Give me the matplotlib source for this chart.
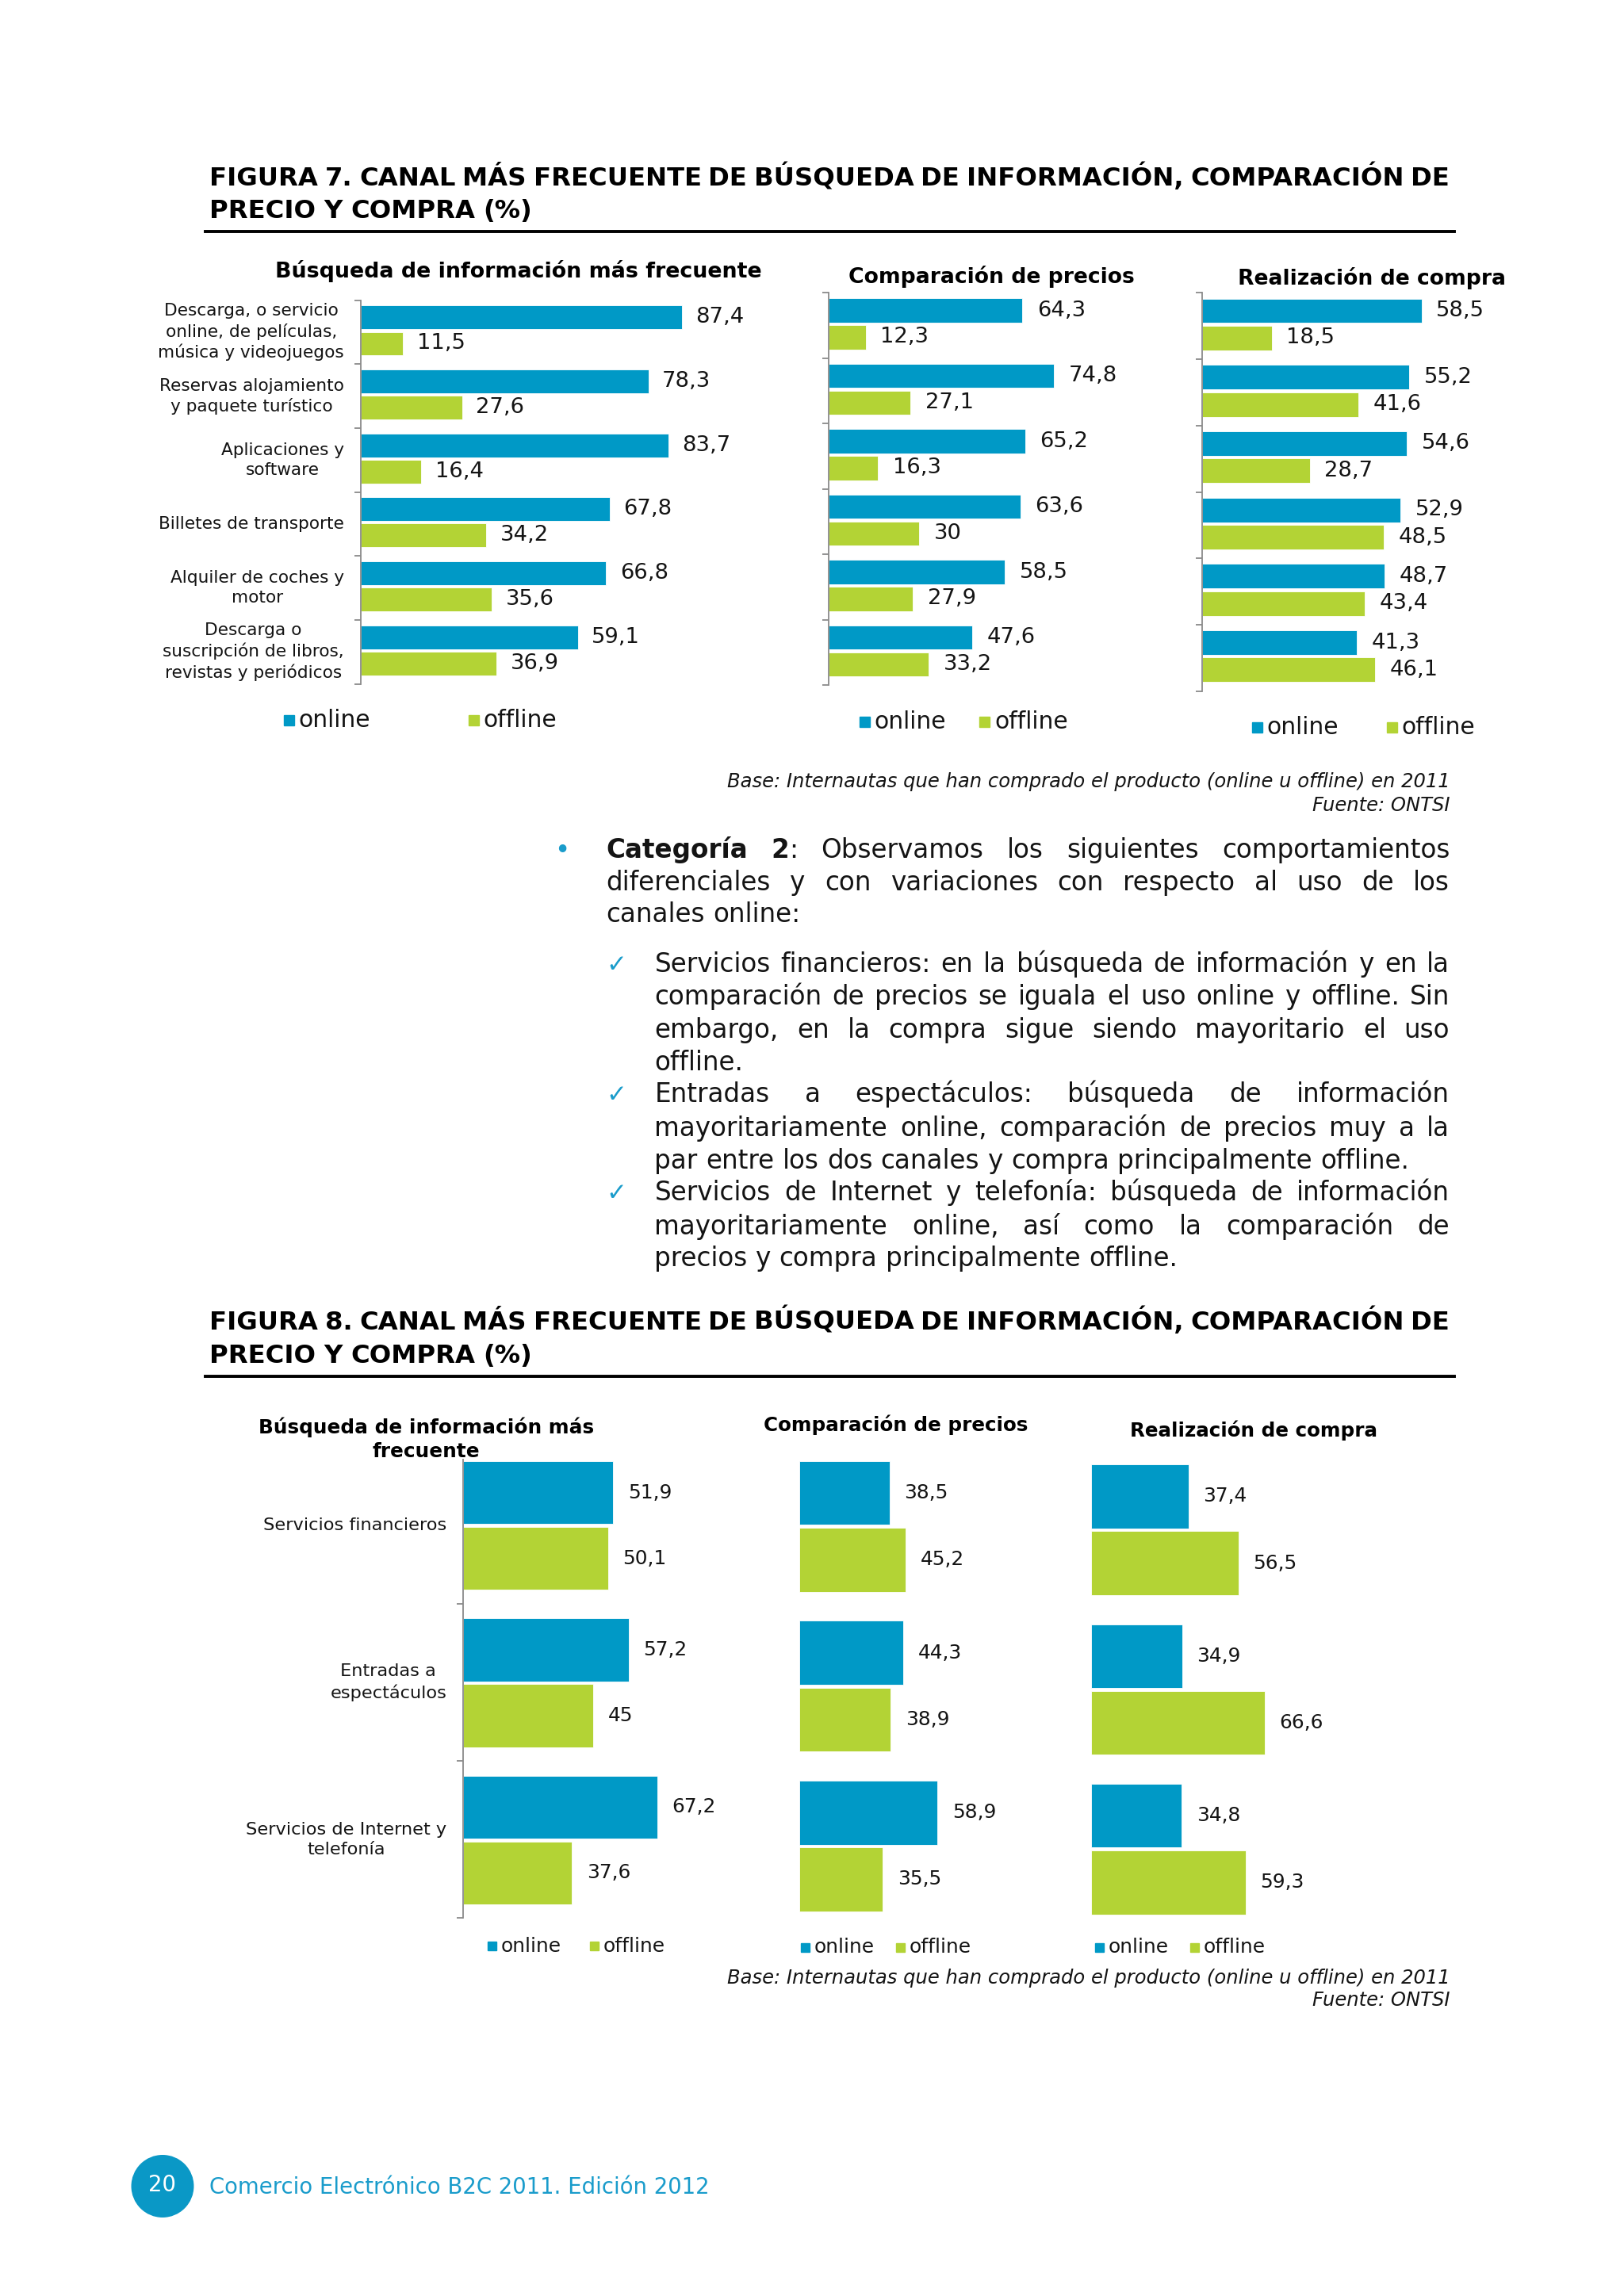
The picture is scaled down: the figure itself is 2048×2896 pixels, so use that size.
import numpy as np
import matplotlib
matplotlib.use('Agg')
import matplotlib.pyplot as plt
from matplotlib.patches import Rectangle, Ellipse
from matplotlib.lines import Line2D

plt.rcParams['font.family'] = ['DejaVu Sans']

# ---------------- DATA ----------------
series_labels = ["online", "offline"]

fig7_categories = [
    "Descarga, o servicio\nonline, de películas,\nmúsica y videojuegos",
    "Reservas alojamiento\ny paquete turístico",
    "Aplicaciones y\nsoftware",
    "Billetes de transporte",
    "Alquiler de coches y\nmotor",
    "Descarga o\nsuscripción de libros,\nrevistas y periódicos",
]
fig7_busqueda_online = [87.4, 78.3, 83.7, 67.8, 66.8, 59.1]
fig7_busqueda_offline = [11.5, 27.6, 16.4, 34.2, 35.6, 36.9]
fig7_comparacion_online = [64.3, 74.8, 65.2, 63.6, 58.5, 47.6]
fig7_comparacion_offline = [12.3, 27.1, 16.3, 30, 27.9, 33.2]
fig7_compra_online = [58.5, 55.2, 54.6, 52.9, 48.7, 41.3]
fig7_compra_offline = [18.5, 41.6, 28.7, 48.5, 43.4, 46.1]

fig8_categories = ["Servicios financieros", "Entradas a\nespectáculos",
                   "Servicios de Internet y\ntelefonía"]
fig8_busqueda_online = [51.9, 57.2, 67.2]
fig8_busqueda_offline = [50.1, 45, 37.6]
fig8_comparacion_online = [38.5, 44.3, 58.9]
fig8_comparacion_offline = [45.2, 38.9, 35.5]
fig8_compra_online = [37.4, 34.9, 34.8]
fig8_compra_offline = [56.5, 66.6, 59.3]

fig7_title = ["FIGURA 7. CANAL MÁS FRECUENTE DE BÚSQUEDA DE INFORMACIÓN, COMPARACIÓN DE",
              "PRECIO Y COMPRA (%)"]
fig8_title = ["FIGURA 8. CANAL MÁS FRECUENTE DE BÚSQUEDA DE INFORMACIÓN, COMPARACIÓN DE",
              "PRECIO Y COMPRA (%)"]
chart_titles = ["Búsqueda de información más frecuente", "Comparación de precios",
                "Realización de compra"]
fig8_chart1_title = "Búsqueda de información más\nfrecuente"
base_text = "Base: Internautas que han comprado el producto (online u offline) en 2011"
source_text = "Fuente: ONTSI"
footer_text = "Comercio Electrónico B2C 2011. Edición 2012"
page_number = "20"

para_lines = [
    "Categoría 2: Observamos los siguientes comportamientos",
    "diferenciales y con variaciones con respecto al uso de los",
    "canales online:",
]
items = [
    ["Servicios financieros: en la búsqueda de información y en la",
     "comparación de precios se iguala el uso online y offline. Sin",
     "embargo, en la compra sigue siendo mayoritario el uso",
     "offline."],
    ["Entradas a espectáculos: búsqueda de información",
     "mayoritariamente online, comparación de precios muy a la",
     "par entre los dos canales y compra principalmente offline."],
    ["Servicios de Internet y telefonía: búsqueda de información",
     "mayoritariamente online, así como la comparación de",
     "precios y compra principalmente offline."],
]

# ---------------- STYLE ----------------
BLUE = "#0099C6"
GREEN = "#B3D335"
TXT = "#141414"
ACCENT = "#1A9CCB"
GRAY = "#8A8A8A"

W, H = 1109.0, 1568.0
S = 2048.0 / W
fig = plt.figure(figsize=(20.48, 28.96), dpi=100)
fig.patch.set_facecolor("white")
R = fig.canvas.get_renderer()


def X(x):
    return x / W


def Y(y):
    return 1 - y / H


def PT(d):  # display px -> points
    return d * S * 72.0 / 100.0


def em_disp(size):
    return size * 100.0 / 72.0 / S


def text_w(s, size, **kw):
    t = fig.text(0, 0, s, fontsize=size, **kw)
    w = t.get_window_extent(R).width / S
    t.remove()
    return w


def fit(s, width, **kw):
    return 20.0 * width / text_w(s, 20, **kw)


def lsp(size, target_disp):
    em = size * 100.0 / 72.0
    return (target_disp * S / em - 0.208) / 0.76


def put_words(words, x0, x1, y, size, color, justify=True):
    widths = [sum(text_w(seg, size, fontweight=wt) for seg, wt in wd) for wd in words]
    space = text_w("a a", size) - text_w("aa", size)
    if justify and len(words) > 1:
        gap = (x1 - x0 - sum(widths)) / (len(words) - 1)
    else:
        gap = space
    yb = y + 0.275 * em_disp(size)  # common baseline for every word of the line
    x = x0
    for wd, w in zip(words, widths):
        for seg, wt in wd:
            fig.text(X(x), Y(yb), seg, fontsize=size, fontweight=wt, color=color,
                     ha="left", va="baseline")
            x += text_w(seg, size, fontweight=wt)
        x += gap


def plain_words(line, weight="normal"):
    return [[(w, weight)] for w in line.split(" ")]


def fmt(v):
    return ("%g" % v).replace(".", ",")


# ---------------- SIZES ----------------
title_size = fit(fig7_title[1], 221, fontweight="bold")
body_size = fit(items[1][2], 516)
cat7_size = fit("Billetes de transporte", 126)
cat8_size = fit("Servicios financieros", 125)
val7_size = fit("87,4", 33)
val8_size = fit("51,9", 30)
leg7_size = fit("online", 49)
leg8_size = fit("online", 41)
base_size = fit(base_text, 494, fontstyle="italic")
foot_size = fit(footer_text, 341)


def header(lines, y1, y2, yline):
    put_words(plain_words(lines[0], "bold"), 143, 990, y1, title_size, "black", True)
    put_words(plain_words(lines[1], "bold"), 143, 990, y2, title_size, "black", False)
    fig.add_artist(Line2D([X(140), X(993)], [Y(yline), Y(yline)], color="black",
                          lw=2.8, transform=fig.transFigure))


def chart(left, top, bottom, scale, cats, online, offline, on_off, off_off, h,
          ylim, val_size, val_pad, cat_size=None, cat_ls=1.2, spine=True, bounds=None):
    ax = fig.add_axes([X(left), Y(bottom), 100 * scale / W, (bottom - top) / H])
    idx = np.arange(len(online))
    ax.barh(idx + on_off, online, height=h, color=BLUE, edgecolor="white", linewidth=0.6)
    ax.barh(idx + off_off, offline, height=h, color=GREEN, edgecolor="white", linewidth=0.6)
    ax.set_xlim(0, 100)
    ax.set_ylim(*ylim)
    ax.set_xticks([])
    ax.set_yticks([])
    ax.patch.set_alpha(0)
    for k in ["top", "right", "bottom"]:
        ax.spines[k].set_visible(False)
    if spine:
        ax.spines["left"].set_color(GRAY)
        ax.spines["left"].set_linewidth(1.3)
        ax.set_yticks(bounds, minor=True)
        ax.tick_params(axis="y", which="minor", length=PT(4.5), width=1.3, color=GRAY,
                       direction="out", labelleft=False)
    else:
        ax.spines["left"].set_visible(False)
    for i in idx:
        ax.annotate(fmt(online[i]), (online[i], i + on_off), xytext=(PT(val_pad), 0),
                    textcoords="offset points", ha="left", va="center",
                    fontsize=val_size, color=TXT)
        ax.annotate(fmt(offline[i]), (offline[i], i + off_off), xytext=(PT(val_pad), 0),
                    textcoords="offset points", ha="left", va="center",
                    fontsize=val_size, color=TXT)
        if cats is not None:
            ax.annotate(cats[i], (0, i), xytext=(-PT(11.5), 0), textcoords="offset points",
                        ha="right", va="center", multialignment="center",
                        fontsize=cat_size, color=TXT, linespacing=cat_ls)
    return ax


def legend(xs_on, xs_off, y, size, sq):
    for xs, col, lab in [(xs_on, BLUE, series_labels[0]), (xs_off, GREEN, series_labels[1])]:
        fig.add_artist(Rectangle((X(xs), Y(y + sq / 2)), sq / W, sq / H, color=col,
                                 transform=fig.transFigure))
        fig.text(X(xs + sq + 3), Y(y), lab, fontsize=size, color=TXT, ha="left", va="center")


# ---------------- FIGURE 7 ----------------
header(fig7_title, 122, 144, 158)

fig.text(X(354), Y(185), chart_titles[0], fontsize=fit(chart_titles[0], 332, fontweight="bold"),
         fontweight="bold", ha="center", va="center", color="black")
fig.text(X(677), Y(189), chart_titles[1], fontsize=fit(chart_titles[1], 196, fontweight="bold"),
         fontweight="bold", ha="center", va="center", color="black")
fig.text(X(937), Y(190), chart_titles[2], fontsize=fit(chart_titles[2], 183, fontweight="bold"),
         fontweight="bold", ha="center", va="center", color="black")

b7 = np.arange(-0.5, 6.0, 1.0)
chart(246.5, 205, 467, 2.506, fig7_categories, fig7_busqueda_online, fig7_busqueda_offline,
      -0.23, 0.18, 0.37, (5.5, -0.5), val7_size, 9.5, cat7_size, lsp(cat7_size, 14),
      True, b7)
chart(566, 200, 468, 2.055, None, fig7_comparacion_online, fig7_comparacion_offline,
      -0.23, 0.18, 0.37, (5.5, -0.5), val7_size, 10, spine=True, bounds=b7)
chart(821, 200, 472, 2.56, None, fig7_compra_online, fig7_compra_offline,
      -0.23, 0.18, 0.37, (5.5, -0.5), val7_size, 10, spine=True, bounds=b7)

legend(194, 320, 492, leg7_size, 7)
legend(587, 669, 493, leg7_size, 7)
legend(855, 947, 497, leg7_size, 7)

fig.text(X(990), Y(534), base_text, fontsize=base_size, fontstyle="italic", color=TXT,
         ha="right", va="center")
fig.text(X(990), Y(550), source_text, fontsize=base_size, fontstyle="italic", color=TXT,
         ha="right", va="center")

# ---------------- BODY TEXT ----------------
fig.text(X(384), Y(581), "•", fontsize=body_size, color=ACCENT, ha="center", va="center")
first = [[("Categoría", "bold")], [("2", "bold"), (":", "normal")]] + \
    plain_words(para_lines[0].split(": ", 1)[1])
put_words(first, 414, 990, 581, body_size, TXT, True)
put_words(plain_words(para_lines[1]), 414, 990, 603, body_size, TXT, True)
put_words(plain_words(para_lines[2]), 414, 990, 625, body_size, TXT, False)

item_y = [[659, 681, 704, 726], [748, 771, 793], [815, 838, 860]]
for lines, ys in zip(items, item_y):
    fig.text(X(421), Y(ys[0]), "✓", fontsize=body_size * 0.95, color=ACCENT,
             ha="center", va="center")
    for j, (ln, yy) in enumerate(zip(lines, ys)):
        put_words(plain_words(ln), 447, 990, yy, body_size, TXT, j < len(lines) - 1)

# ---------------- FIGURE 8 ----------------
header(fig8_title, 903, 926, 940)

t8size = fit("Búsqueda de información más", 228, fontweight="bold")
fig.text(X(291), Y(983), fig8_chart1_title, fontsize=t8size,
         fontweight="bold", ha="center", va="center", color="black",
         multialignment="center", linespacing=lsp(t8size, 16))
fig.text(X(612), Y(973), chart_titles[1], fontsize=fit(chart_titles[1], 181, fontweight="bold"),
         fontweight="bold", ha="center", va="center", color="black")
fig.text(X(856), Y(977), chart_titles[2], fontsize=fit(chart_titles[2], 170, fontweight="bold"),
         fontweight="bold", ha="center", va="center", color="black")

b8 = [0.5, 1.5, 2.5]
chart(316.5, 997, 1310, 1.97, fig8_categories, fig8_busqueda_online, fig8_busqueda_offline,
      -0.207, 0.211, 0.40, (2.5, -0.415), val8_size, 10, cat8_size, lsp(cat8_size, 15),
      True, b8)
chart(546, 987.5, 1315, 1.60, None, fig8_comparacion_online, fig8_comparacion_offline,
      -0.207, 0.211, 0.40, (2.5, -0.5), val8_size, 10, spine=False)
chart(745, 990, 1317, 1.78, None, fig8_compra_online, fig8_compra_offline,
      -0.207, 0.211, 0.40, (2.5, -0.5), val8_size, 10, spine=False)

legend(333, 403, 1329, leg8_size, 6)
legend(547, 612, 1330, leg8_size, 6)
legend(748, 813, 1330, leg8_size, 6)

fig.text(X(990), Y(1351), base_text, fontsize=base_size, fontstyle="italic", color=TXT,
         ha="right", va="center")
fig.text(X(990), Y(1366), source_text, fontsize=base_size, fontstyle="italic", color=TXT,
         ha="right", va="center")

# ---------------- FOOTER ----------------
fig.add_artist(Ellipse((X(111), Y(1493)), 42 / W, 42 / H, color="#0A98C6",
                       transform=fig.transFigure))
fig.text(X(111), Y(1492), page_number, fontsize=fit(page_number, 19), color="white",
         ha="center", va="center")
fig.text(X(143), Y(1494), footer_text, fontsize=foot_size, color="#1A9CCB",
         ha="left", va="center")

fig.savefig("out.png", dpi=100, facecolor="white")
